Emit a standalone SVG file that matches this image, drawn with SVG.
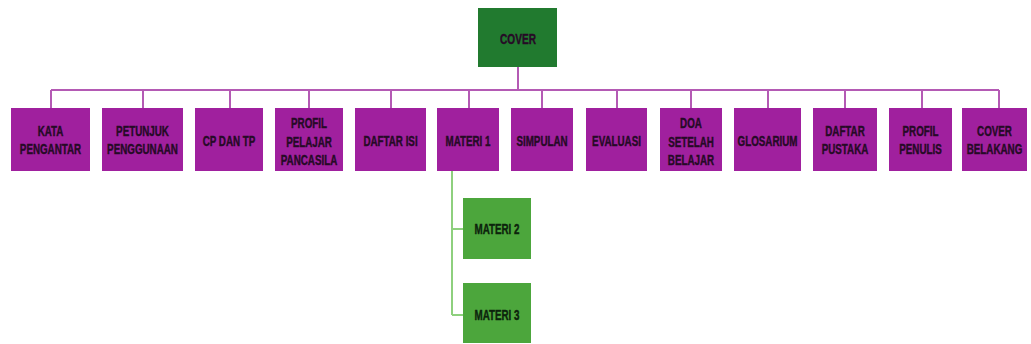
<svg xmlns="http://www.w3.org/2000/svg" width="1031" height="344" viewBox="0 0 1031 344">
  <style>
    .bg { fill: #ffffff; }
    .p { fill: #a0209e; }
    .g { fill: #4ca63c; }
    .root { fill: #217a2f; }
    .lp { stroke: #b45ab4; stroke-width: 2; fill: none; }
    .lg { stroke: #8ed07e; stroke-width: 2; fill: none; }
    text { font-family: "Liberation Sans", Arial, sans-serif; font-weight: bold; font-size: 14px; text-anchor: middle; stroke-width: 0.4px; }
    .tp { fill: #260a26; stroke: #260a26; }
    .tg { fill: #0c240c; stroke: #0c240c; }
  </style>
  <rect class="bg" x="0" y="0" width="1031" height="344"/>

  <g id="connectors">
    <path class="lp" d="M518 67 V90 M51 90 H999 M51 90 V108 M143 90 V108 M230 90 V108 M309 90 V108 M391 90 V108 M469 90 V108 M542 90 V108 M617 90 V108 M691 90 V108 M768 90 V108 M845 90 V108 M922 90 V108 M999 90 V108"/>
    <path class="lg" d="M452 171 V315 M452 229 H463 M452 315 H463"/>
  </g>

  <g id="cover">
    <rect class="root" x="478" y="8" width="79" height="59"/>
    <text class="tp" font-size="15" transform="translate(518 43.5) scale(0.72 1)">COVER</text>
  </g>

  <g id="kata-pengantar">
    <rect class="p" x="11" y="108" width="79" height="63"/>
    <text class="tp" transform="translate(50.5 135.7) scale(0.7 1)">KATA</text>
    <text class="tp" transform="translate(50.5 154) scale(0.7 1)">PENGANTAR</text>
  </g>

  <g id="petunjuk-penggunaan">
    <rect class="p" x="102" y="108" width="81" height="63"/>
    <text class="tp" transform="translate(142.5 135.7) scale(0.7 1)">PETUNJUK</text>
    <text class="tp" transform="translate(142.5 154) scale(0.7 1)">PENGGUNAAN</text>
  </g>

  <g id="cp-dan-tp">
    <rect class="p" x="195" y="108" width="68" height="63"/>
    <text class="tp" transform="translate(229 146) scale(0.7 1)">CP DAN TP</text>
  </g>

  <g id="profil-pelajar-pancasila">
    <rect class="p" x="275" y="108" width="68" height="63"/>
    <text class="tp" transform="translate(309 128) scale(0.7 1)">PROFIL</text>
    <text class="tp" transform="translate(309 146.5) scale(0.7 1)">PELAJAR</text>
    <text class="tp" transform="translate(309 165) scale(0.7 1)">PANCASILA</text>
  </g>

  <g id="daftar-isi">
    <rect class="p" x="355" y="108" width="71" height="63"/>
    <text class="tp" transform="translate(390.5 146) scale(0.7 1)">DAFTAR ISI</text>
  </g>

  <g id="materi-1">
    <rect class="p" x="437" y="108" width="62" height="63"/>
    <text class="tp" transform="translate(468 146) scale(0.7 1)">MATERI 1</text>
  </g>

  <g id="simpulan">
    <rect class="p" x="511" y="108" width="62" height="63"/>
    <text class="tp" transform="translate(542 146) scale(0.7 1)">SIMPULAN</text>
  </g>

  <g id="evaluasi">
    <rect class="p" x="586" y="108" width="61" height="63"/>
    <text class="tp" transform="translate(616.5 146) scale(0.7 1)">EVALUASI</text>
  </g>

  <g id="doa-setelah-belajar">
    <rect class="p" x="660" y="108" width="62" height="63"/>
    <text class="tp" transform="translate(691 128) scale(0.7 1)">DOA</text>
    <text class="tp" transform="translate(691 146.5) scale(0.7 1)">SETELAH</text>
    <text class="tp" transform="translate(691 165) scale(0.7 1)">BELAJAR</text>
  </g>

  <g id="glosarium">
    <rect class="p" x="734" y="108" width="67" height="63"/>
    <text class="tp" transform="translate(767.5 146) scale(0.7 1)">GLOSARIUM</text>
  </g>

  <g id="daftar-pustaka">
    <rect class="p" x="813" y="108" width="64" height="63"/>
    <text class="tp" transform="translate(845 135.7) scale(0.7 1)">DAFTAR</text>
    <text class="tp" transform="translate(845 154) scale(0.7 1)">PUSTAKA</text>
  </g>

  <g id="profil-penulis">
    <rect class="p" x="889" y="108" width="63" height="63"/>
    <text class="tp" transform="translate(920.5 135.7) scale(0.7 1)">PROFIL</text>
    <text class="tp" transform="translate(920.5 154) scale(0.7 1)">PENULIS</text>
  </g>

  <g id="cover-belakang">
    <rect class="p" x="962" y="108" width="65" height="63"/>
    <text class="tp" transform="translate(994.5 135.7) scale(0.7 1)">COVER</text>
    <text class="tp" transform="translate(994.5 154) scale(0.7 1)">BELAKANG</text>
  </g>

  <g id="materi-2">
    <rect class="g" x="463" y="198" width="68" height="61"/>
    <text class="tg" transform="translate(497 234) scale(0.7 1)">MATERI 2</text>
  </g>

  <g id="materi-3">
    <rect class="g" x="463" y="283" width="68" height="60"/>
    <text class="tg" transform="translate(497 320) scale(0.7 1)">MATERI 3</text>
  </g>
</svg>
